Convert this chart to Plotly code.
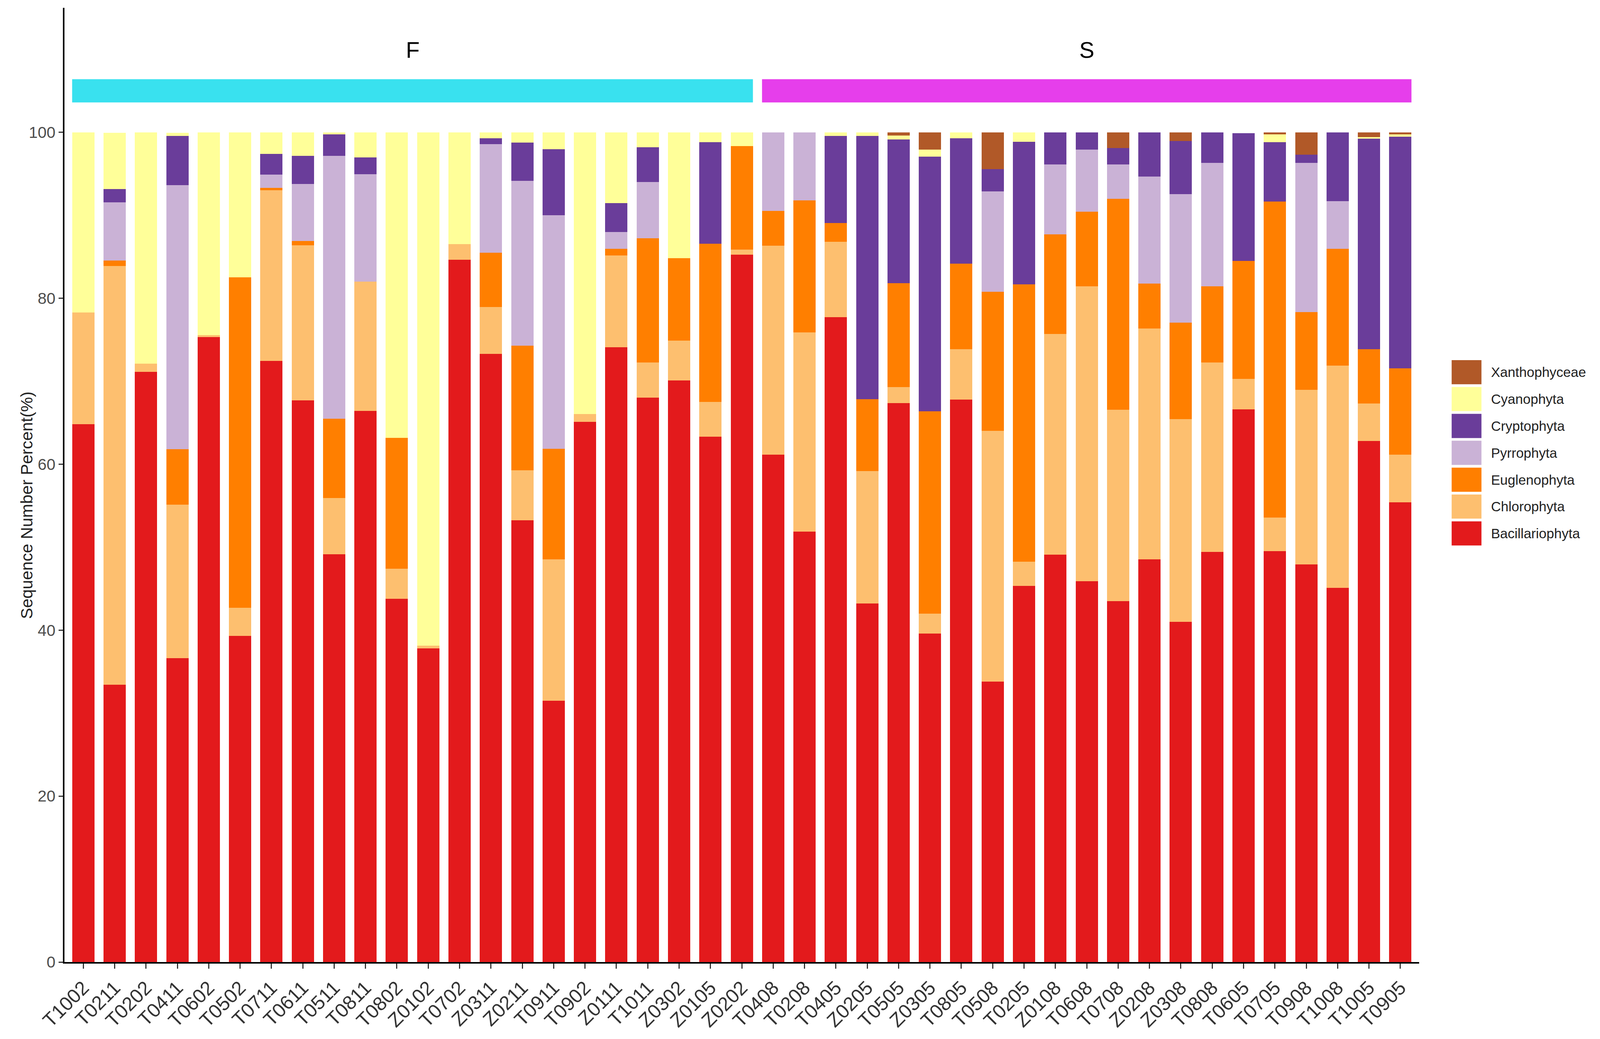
import plotly.graph_objects as go

# Sample names, split into the two groups shown across the top.
f_samples = ['T1002', 'T0211', 'T0202', 'T0411', 'T0602', 'T0502', 'T0711', 'T0611', 'T0511', 'T0811', 'T0802',
             'Z0102', 'T0702', 'Z0311', 'Z0211', 'T0911', 'T0902', 'Z0111', 'T1011', 'Z0302', 'Z0105', 'Z0202']
s_samples = ['T0408', 'T0208', 'T0405', 'Z0205', 'T0505', 'Z0305', 'T0805', 'T0508', 'T0205', 'Z0108', 'T0608',
             'T0708', 'Z0208', 'Z0308', 'T0808', 'T0605', 'T0705', 'T0908', 'T1008', 'T1005', 'T0905']
samples = f_samples + s_samples

# Percent of sequences per phylum.
bacillariophyta = [64.8, 33.4, 71.15, 36.6, 75.3, 39.3, 72.45, 67.7, 49.15, 66.4, 43.8,
                   37.8, 84.64, 73.28, 53.23, 31.5, 65.12, 74.1, 68.03, 70.11, 63.3, 85.25,
                   61.17, 51.89, 77.74, 43.21, 67.38, 39.61, 67.77, 33.8, 45.34, 49.11, 45.9,
                   43.51, 48.55, 41.0, 49.41, 66.59, 49.5, 47.9, 45.08, 62.78, 55.4]
chlorophyta = [13.5, 50.5, 0.95, 18.5, 0.25, 3.4, 20.55, 18.7, 6.77, 15.6, 3.6,
               0.35, 1.87, 5.68, 6.03, 17.05, 0.91, 11.06, 4.25, 4.77, 4.21, 0.61,
               25.16, 23.99, 9.07, 15.97, 1.9, 2.39, 6.07, 30.23, 2.9, 26.59, 35.53,
               23.04, 27.81, 24.42, 22.87, 3.69, 4.08, 21.08, 26.81, 4.55, 5.73]
euglenophyta = [0, 0.66, 0, 6.7, 0, 39.8, 0.28, 0.5, 9.55, 0, 15.75,
                0, 0, 6.51, 15.01, 13.32, 0, 0.78, 14.97, 9.94, 19.04, 12.49,
                4.17, 15.92, 2.26, 8.67, 12.54, 24.38, 10.32, 16.75, 33.41, 12.02, 8.98,
                25.42, 5.42, 11.63, 9.15, 14.23, 38.09, 9.33, 14.05, 6.51, 10.41]
pyrrophyta = [0, 7.0, 0, 31.85, 0, 0, 1.6, 6.85, 31.67, 12.97, 0,
              0, 0, 13.1, 19.87, 28.15, 0, 2.04, 6.76, 0, 0, 0,
              9.5, 8.2, 0, 0, 0, 0, 0, 12.11, 0, 8.42, 7.51,
              4.17, 12.88, 15.49, 14.88, 0, 0, 18.0, 5.77, 0, 0]
cryptophyta = [0, 1.6, 0, 5.9, 0, 0, 2.5, 3.4, 2.6, 1.99, 0,
               0, 0, 0.69, 4.6, 7.94, 0, 3.47, 4.17, 0, 12.28, 0,
               0, 0, 10.5, 31.72, 17.31, 30.67, 15.1, 2.68, 17.22, 3.86, 2.08,
               1.95, 5.34, 6.42, 3.69, 15.36, 7.12, 1.0, 8.29, 25.38, 27.94]
cyanophyta = [21.7, 6.8, 27.9, 0.4, 24.45, 17.5, 2.6, 2.85, 0.26, 3.04, 36.85,
              61.85, 13.49, 0.74, 1.26, 2.04, 33.97, 8.55, 1.82, 15.18, 1.17, 1.65,
              0, 0, 0.43, 0.43, 0.48, 0.87, 0.74, 0, 1.13, 0, 0,
              0, 0, 0, 0, 0, 0.95, 0, 0, 0.22, 0.26]
xanthophyceae = [0, 0, 0, 0, 0, 0, 0, 0, 0, 0, 0,
                 0, 0, 0, 0, 0, 0, 0, 0, 0, 0, 0,
                 0, 0, 0, 0, 0.39, 2.08, 0, 4.43, 0, 0, 0,
                 1.91, 0, 1.04, 0, 0, 0.26, 2.69, 0, 0.56, 0.26]

# Stack order, bottom to top.
phyla = ['Bacillariophyta', 'Chlorophyta', 'Euglenophyta', 'Pyrrophyta', 'Cryptophyta', 'Cyanophyta', 'Xanthophyceae']
values = [bacillariophyta, chlorophyta, euglenophyta, pyrrophyta, cryptophyta, cyanophyta, xanthophyceae]
colors = ['#E31A1C', '#FDBF6F', '#FF7F00', '#CAB2D6', '#6A3D9A', '#FFFF99', '#B15928']

font = 'Liberation Sans, Arial, sans-serif'
barWidth = 0.71

# The page comes out 4096 css px wide and 2660 tall, with the usual 8px body margin,
# so positions measured on the 4724x2660 picture get squeezed sideways only.
kx = 4096 / 4724
ky = 1.0
kf = 0.93  # font compromise between the two


def px(p):
    return p * kx - 8


def py(p):
    return p * ky - 8


figW, figH = 4096 - 16, 2660 - 16
plotLeft, plotRight, plotTop, plotBottom = px(190), px(4190), py(20), py(2471)
plotW = plotRight - plotLeft
plotH = plotBottom - plotTop

fig = go.Figure()

# One stacked trace per phylum.
for name, vals, color in zip(phyla, values, colors):
    fig.add_trace(go.Bar(x=samples, y=vals, name=name, marker=dict(color=color, line=dict(width=0)),
                         width=barWidth, showlegend=False, hovertemplate='%{x}<br>' + name + ': %{y}<extra></extra>'))

# Group bars and labels above the stacks.
groupBands = [('F', 0, len(f_samples) - 1, '#39E1EF'),
              ('S', len(f_samples), len(samples) - 1, '#E63EEB')]
shapes = []
annotations = []
for label, first, last, color in groupBands:
    shapes.append(dict(type='rect', xref='x', yref='y', x0=first - barWidth / 2, x1=last + barWidth / 2,
                       y0=103.6, y1=106.4, fillcolor=color, line=dict(width=0), layer='above'))
    annotations.append(dict(text=label, xref='x', yref='y', x=(first + last) / 2, y=109.9, showarrow=False,
                            font=dict(family=font, size=62 * kf, color='black')))

# Y axis title, placed by hand like the original.
annotations.append(dict(text='Sequence Number Percent(%)', xref='paper', yref='paper',
                        x=(px(48) - plotLeft) / plotW, y=(plotBottom - py(1298)) / plotH,
                        textangle=-90, showarrow=False, font=dict(family=font, size=46 * kf, color='#222222')))

# Legend drawn by hand so the keys are as big as in the original.
for i, (name, color) in enumerate(zip(phyla[::-1], colors[::-1])):
    top = py(925 + i * 69)
    shapes.append(dict(type='rect', xref='paper', yref='paper',
                       x0=(px(4286) - plotLeft) / plotW, x1=(px(4374) - plotLeft) / plotW,
                       y0=(plotBottom - top - 62 * ky) / plotH, y1=(plotBottom - top) / plotH,
                       fillcolor=color, line=dict(width=0)))
    annotations.append(dict(text=name, xref='paper', yref='paper', x=(px(4400) - plotLeft) / plotW,
                            y=(plotBottom - top - 31 * ky) / plotH, xanchor='left', yanchor='middle',
                            showarrow=False, font=dict(family=font, size=35, color='#222222')))

fig.update_layout(
    barmode='stack',
    width=figW, height=figH,
    margin=dict(l=plotLeft, r=figW - plotRight, t=plotTop, b=figH - plotBottom),
    plot_bgcolor='white', paper_bgcolor='white',
    font=dict(family=font),
    shapes=shapes,
    annotations=annotations,
    bargap=0,
)

fig.update_xaxes(range=[-0.6, len(samples) - 0.4], showline=True, linecolor='black', linewidth=3.5,
                 ticks='outside', ticklen=13, tickwidth=3, tickcolor='#333333', tickangle=-45,
                 tickfont=dict(family=font, size=50, color='#333333'), showgrid=False, fixedrange=True)
fig.update_yaxes(range=[0, 115], showline=True, linecolor='black', linewidth=3.5,
                 ticks='outside', ticklen=11, tickwidth=3, tickcolor='#333333',
                 tickvals=[0, 20, 40, 60, 80, 100], tickfont=dict(family=font, size=44 * kf, color='#4d4d4d'),
                 showgrid=False, zeroline=False, fixedrange=True)

fig.write_html('out.html')
